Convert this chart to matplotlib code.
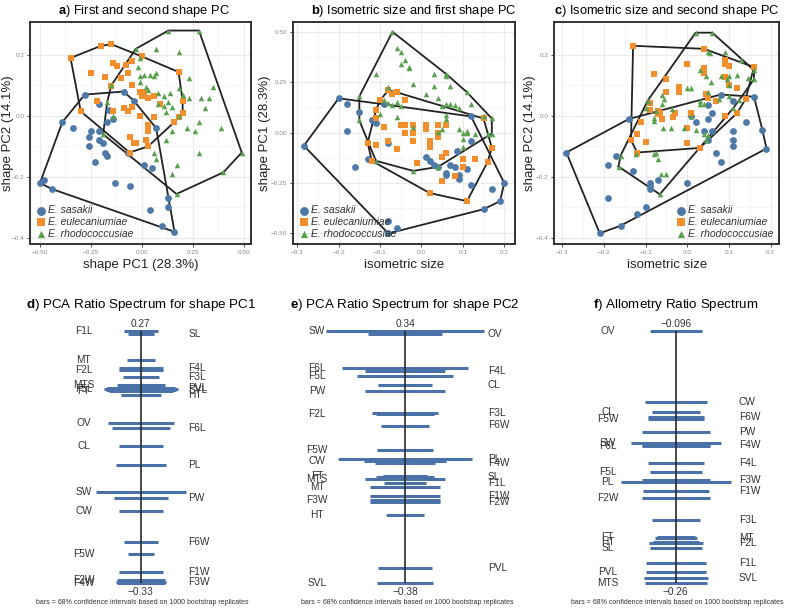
import matplotlib
matplotlib.use('Agg')
import matplotlib.pyplot as plt
import numpy as np
from matplotlib.ticker import FixedLocator, FixedFormatter

plt.rcParams['font.family'] = ['Liberation Sans', 'DejaVu Sans']
plt.rcParams['mathtext.fontset'] = 'custom'
plt.rcParams['mathtext.rm'] = 'Liberation Sans'
plt.rcParams['mathtext.bf'] = 'Liberation Sans:bold'

species = ['E. sasakii', 'E. eulecaniumiae', 'E. rhodococcusiae']
colors = ['#4E79A7', '#F28E2B', '#59A14F']
markers = ['o', 's', '^']

# a) shape PC1 vs shape PC2
a_sas = [(-0.28, 0.07), (-0.21, 0.04), (-0.09, 0.08), (-0.04, 0.05), (-0.39, -0.02), (-0.34, -0.04),
         (-0.25, -0.05), (-0.21, -0.05), (-0.16, 0.02), (-0.17, -0.02), (-0.14, -0.01), (-0.26, -0.07),
         (-0.26, -0.10), (-0.21, -0.08), (-0.19, -0.09), (-0.18, -0.12), (-0.17, -0.13), (-0.23, -0.15),
         (0.07, -0.04), (-0.07, -0.12), (0.01, -0.16), (0.05, -0.17), (-0.50, -0.22), (-0.48, -0.21),
         (-0.44, -0.24), (-0.13, -0.22), (-0.06, -0.23), (0.13, -0.27), (0.13, -0.30), (0.04, -0.31),
         (0.10, -0.36), (0.16, -0.38)]
a_eul = [(-0.35, 0.19), (-0.20, 0.23), (-0.15, 0.235), (0.00, 0.195), (0.18, 0.144), (0.20, 0.05),
         (0.20, 0.01), (0.16, -0.02), (0.18, -0.005), (0.03, -0.10), (-0.06, -0.12), (-0.30, 0.015),
         (-0.25, 0.14), (-0.18, 0.126), (-0.14, 0.174), (-0.12, 0.165), (-0.08, 0.168), (-0.05, 0.18),
         (-0.07, 0.14), (-0.15, 0.097), (-0.10, 0.125), (-0.05, 0.10), (-0.01, 0.08), (0.01, 0.08),
         (0.03, 0.06), (0.00, 0.065), (0.06, 0.065), (0.09, 0.04), (-0.22, 0.05), (-0.14, 0.015),
         (-0.09, 0.026), (-0.07, 0.015), (-0.05, 0.03), (-0.01, 0.00), (0.06, -0.005), (0.03, -0.03),
         (0.03, -0.05), (-0.06, -0.07), (-0.04, -0.09), (-0.03, -0.09), (0.02, -0.08)]
a_rho = [(0.13, 0.28), (0.28, 0.28), (-0.03, 0.22), (0.07, 0.22), (0.18, 0.21), (-0.01, 0.19),
         (-0.02, 0.16), (-0.01, 0.13), (0.01, 0.135), (0.04, 0.135), (0.07, 0.14), (0.06, 0.13),
         (-0.01, 0.11), (0.02, 0.095), (0.03, 0.085), (0.08, 0.075), (0.11, 0.065), (0.14, 0.075),
         (0.18, 0.09), (0.23, 0.125), (0.20, 0.07), (0.23, 0.06), (0.35, 0.095), (0.33, 0.06),
         (0.29, 0.06), (0.13, 0.046), (0.11, 0.033), (0.08, 0.04), (0.15, 0.03), (0.12, 0.013),
         (0.18, 0.00), (0.31, 0.025), (0.28, -0.02), (0.39, -0.04), (0.22, -0.04), (0.26, -0.05),
         (0.15, -0.05), (0.12, -0.08), (0.06, -0.12), (0.07, -0.14), (0.17, -0.16), (0.15, -0.19),
         (0.28, -0.12), (0.40, -0.185), (0.49, -0.12), (0.17, -0.256), (-0.15, 0.10), (-0.17, 0.046),
         (-0.19, -0.06), (-0.14, 0.00)]

# b) isometric size vs shape PC1
b_sas = [(-0.284, -0.065), (-0.20, 0.17), (-0.18, 0.14), (-0.18, 0.01), (-0.15, 0.10), (-0.16, -0.17),
         (-0.12, 0.06), (-0.11, 0.05), (-0.09, 0.14), (-0.08, -0.05), (-0.13, -0.13), (0.01, -0.12),
         (0.02, -0.14), (0.03, -0.16), (0.04, -0.17), (0.06, -0.20), (0.06, -0.21), (0.07, -0.16),
         (0.08, -0.17), (0.09, -0.21), (0.09, -0.23), (0.085, -0.09), (0.11, -0.18), (0.12, -0.04),
         (0.12, -0.26), (0.12, 0.08), (0.17, -0.28), (0.20, -0.25), (0.19, -0.34), (0.15, -0.38),
         (-0.06, -0.475), (-0.08, -0.44), (-0.08, -0.50)]
b_eul = [(-0.08, 0.21), (-0.07, 0.19), (-0.06, 0.20), (-0.10, 0.16), (-0.04, 0.16), (-0.11, 0.11),
         (-0.11, 0.07), (-0.09, 0.03), (-0.13, -0.05), (-0.11, -0.06), (-0.08, -0.04), (-0.06, -0.08),
         (-0.05, 0.04), (-0.04, 0.04), (-0.02, 0.04), (-0.04, 0.00), (-0.02, 0.00), (-0.02, -0.04),
         (0.01, 0.04), (0.04, 0.04), (0.06, 0.04), (0.01, 0.02), (0.04, 0.00), (0.04, -0.02),
         (0.02, -0.04), (0.02, -0.07), (-0.01, -0.15), (0.06, -0.10), (0.05, -0.12), (0.10, -0.13),
         (0.13, -0.13), (0.10, -0.17), (0.05, -0.24), (0.02, -0.30), (0.11, -0.34), (0.15, 0.07),
         (0.17, -0.075), (0.16, -0.145), (-0.12, -0.14), (0.08, -0.215)]
b_rho = [(-0.07, 0.50), (-0.06, 0.42), (-0.05, 0.40), (-0.04, 0.36), (-0.05, 0.34), (-0.03, 0.32),
         (-0.03, 0.325), (-0.11, 0.29), (-0.02, 0.24), (0.03, 0.29), (0.06, 0.29), (0.06, 0.28),
         (0.03, 0.23), (0.07, 0.23), (0.11, 0.20), (-0.08, 0.225), (-0.15, 0.18), (-0.09, 0.16),
         (-0.08, 0.145), (-0.06, 0.15), (-0.05, 0.13), (-0.07, 0.135), (-0.15, 0.06), (-0.10, 0.09),
         (-0.06, 0.075), (-0.02, 0.03), (0.01, 0.19), (0.04, 0.17), (0.05, 0.13), (0.06, 0.14),
         (0.07, 0.14), (0.08, 0.135), (0.09, 0.12), (0.12, 0.14), (0.06, 0.085), (0.06, 0.065),
         (0.05, 0.02), (0.04, 0.005), (0.09, 0.02), (0.10, 0.00), (0.11, 0.00), (0.11, 0.01),
         (0.10, -0.03), (0.10, -0.07), (0.13, -0.005), (0.16, -0.005), (0.17, 0.07), (0.17, -0.005),
         (-0.02, -0.19), (-0.11, -0.14), (0.04, -0.17), (0.15, 0.08)]

# c) isometric size vs shape PC2
c_sas = [(-0.29, -0.12), (-0.21, -0.385), (-0.16, -0.36), (-0.12, -0.32), (-0.10, -0.30), (-0.19, -0.27),
         (-0.19, -0.16), (-0.17, -0.13), (-0.13, -0.18), (-0.14, -0.01), (-0.09, -0.22), (-0.09, -0.23),
         (-0.09, -0.24), (-0.07, -0.21), (0.00, -0.22), (0.07, -0.12), (0.08, -0.15), (0.11, -0.10),
         (0.11, -0.08), (0.11, -0.05), (0.14, -0.02), (0.18, -0.045), (0.19, -0.107), (0.16, 0.063),
         (0.08, 0.07), (0.11, 0.048), (0.05, 0.037), (0.06, 0.011), (0.05, -0.01), (0.01, 0.00),
         (0.02, -0.02), (0.04, -0.05), (0.06, -0.05), (0.05, -0.08)]
c_eul = [(-0.13, 0.23), (0.04, 0.22), (0.16, 0.16), (0.14, 0.056), (0.12, 0.01), (0.09, 0.00),
         (0.07, 0.05), (0.03, -0.105), (0.00, -0.09), (-0.12, -0.12), (-0.135, -0.08), (-0.12, -0.06),
         (-0.10, -0.085), (-0.11, -0.02), (-0.09, 0.044), (-0.09, 0.02), (-0.07, 0.015), (-0.07, 0.005),
         (-0.065, 0.01), (-0.06, -0.01), (-0.035, -0.005), (-0.03, 0.01), (-0.02, 0.093), (-0.02, 0.096),
         (-0.02, 0.08), (-0.05, 0.08), (-0.05, 0.12), (-0.08, 0.137), (0.00, 0.17), (0.04, 0.157),
         (0.04, 0.14), (0.045, 0.073), (0.01, 0.01), (0.00, -0.04), (0.05, 0.06), (0.09, 0.185),
         (0.09, 0.17), (0.10, 0.165), (0.09, 0.126), (0.10, 0.10), (0.12, 0.09)]
c_rho = [(0.02, 0.273), (0.06, 0.273), (0.16, 0.15), (0.05, 0.21), (0.055, 0.205), (0.09, 0.21),
         (0.13, 0.185), (0.03, 0.15), (0.045, 0.13), (0.08, 0.13), (0.10, 0.13), (0.095, 0.12),
         (0.12, 0.133), (0.145, 0.125), (0.10, 0.10), (0.056, 0.11), (0.00, 0.09), (0.01, 0.09),
         (0.03, 0.05), (0.03, 0.04), (0.04, 0.04), (0.05, 0.077), (0.076, 0.057), (0.10, 0.066),
         (0.125, 0.053), (0.11, 0.025), (0.16, 0.12), (-0.06, 0.07), (-0.055, 0.055), (-0.06, 0.04),
         (-0.076, 0.017), (-0.10, 0.025), (-0.095, 0.05), (-0.08, -0.007), (-0.08, -0.018), (-0.036, 0.022),
         (-0.058, -0.04), (-0.04, -0.04), (-0.008, -0.04), (0.01, 0.00), (0.02, -0.045), (-0.076, -0.12),
         (-0.08, -0.125), (-0.124, -0.125), (-0.16, -0.13), (-0.165, -0.166), (-0.07, -0.14),
         (-0.064, -0.19), (-0.05, -0.19), (-0.066, -0.257), (0.04, -0.06), (0.045, -0.08), (0.05, -0.063)]

# ratio spectra: variable, ratio value, half length of the 68% CI bar
d_names = ['F1L', 'SL', 'MT', 'F4L', 'F2L', 'F3L', 'MTS', 'PVL', 'F5L', 'SVL', 'FT', 'HT', 'OV',
           'F6L', 'CL', 'PL', 'SW', 'PW', 'CW', 'F6W', 'F5W', 'F1W', 'F2W', 'F3W', 'F4W']
d_ratio = [0.270, 0.262, 0.201, 0.181, 0.178, 0.160, 0.142, 0.135, 0.132, 0.129, 0.126, 0.117, 0.052,
           0.038, -0.004, -0.048, -0.113, -0.127, -0.159, -0.233, -0.262, -0.304, -0.324, -0.328, -0.330]
d_ci = [0.17, 0.13, 0.14, 0.22, 0.22, 0.18, 0.24, 0.34, 0.37, 0.35, 0.32, 0.20, 0.33,
        0.29, 0.22, 0.25, 0.45, 0.27, 0.22, 0.17, 0.13, 0.22, 0.24, 0.25, 0.24]

e_names = ['SW', 'OV', 'F6L', 'F4L', 'F5L', 'CL', 'PW', 'F3L', 'F2L', 'F6W', 'F5W', 'PL', 'CW',
           'F4W', 'FT', 'SL', 'MTS', 'F1L', 'MT', 'F1W', 'F3W', 'F2W', 'HT', 'PVL', 'SVL']
e_ratio = [0.340, 0.331, 0.234, 0.226, 0.211, 0.186, 0.168, 0.105, 0.102, 0.070, 0.000, -0.025, -0.031,
           -0.037, -0.073, -0.077, -0.082, -0.093, -0.105, -0.131, -0.144, -0.149, -0.185, -0.337, -0.380]
e_ci = [0.79, 0.37, 0.63, 0.40, 0.48, 0.27, 0.40, 0.33, 0.29, 0.24, 0.28, 0.67, 0.41,
        0.30, 0.22, 0.29, 0.40, 0.21, 0.35, 0.35, 0.35, 0.35, 0.19, 0.27, 0.28]

f_names = ['OV', 'CW', 'CL', 'F6W', 'F5W', 'PW', 'SW', 'F4W', 'F6L', 'F4L', 'F5L', 'F3W', 'PL',
           'F1W', 'F2W', 'F3L', 'FT', 'MT', 'HT', 'F2L', 'SL', 'F1L', 'PVL', 'SVL', 'MTS']
f_ratio = [-0.096, -0.142, -0.149, -0.152, -0.153, -0.162, -0.169, -0.170, -0.171, -0.182, -0.188, -0.193,
           -0.194, -0.200, -0.205, -0.219, -0.230, -0.231, -0.233, -0.234, -0.237, -0.247, -0.253, -0.257, -0.260]
f_ci = [0.26, 0.31, 0.24, 0.28, 0.28, 0.34, 0.45, 0.34, 0.34, 0.28, 0.26, 0.34, 0.55,
        0.33, 0.34, 0.24, 0.19, 0.21, 0.23, 0.27, 0.26, 0.30, 0.30, 0.32, 0.31]

W, H = 787, 609
fig = plt.figure(figsize=(W / 100, H / 100), dpi=100)


def px_axes(left, top, w, h):
    return fig.add_axes([left / W, 1 - (top + h) / H, w / W, h / H])


def hull(pts):
    pts = sorted(set(pts))
    cross = lambda o, a, b: (a[0] - o[0]) * (b[1] - o[1]) - (a[1] - o[1]) * (b[0] - o[0])
    lower, upper = [], []
    for p in pts:
        while len(lower) >= 2 and cross(lower[-2], lower[-1], p) <= 0:
            lower.pop()
        lower.append(p)
    for p in reversed(pts):
        while len(upper) >= 2 and cross(upper[-2], upper[-1], p) <= 0:
            upper.pop()
        upper.append(p)
    h = lower[:-1] + upper[:-1]
    h.append(h[0])
    return np.array(h)


def scatter_panel(box, groups, xlim, ylim, xt, xtl, yt, ytl, xlabel, ylabel, ylab_x, title, title_x, leg_loc):
    ax = px_axes(*box)
    for g, c, m, lab in zip(groups, colors, markers, species):
        arr = np.array(g)
        sz = 24 if m == 'o' else 16
        ax.scatter(arr[:, 0], arr[:, 1], s=sz, marker=m, color=c, linewidths=0, label=lab, zorder=3)
    for g in groups:
        h = hull(g)
        ax.plot(h[:, 0], h[:, 1], color='#222222', lw=1.3, zorder=2)
    ax.set_xlim(xlim)
    ax.set_ylim(ylim)
    ax.xaxis.set_major_locator(FixedLocator(xt))
    ax.xaxis.set_major_formatter(FixedFormatter(xtl))
    ax.yaxis.set_major_locator(FixedLocator(yt))
    ax.yaxis.set_major_formatter(FixedFormatter(ytl))
    ax.xaxis.set_minor_locator(FixedLocator([(xt[i] + xt[i + 1]) / 2 for i in range(len(xt) - 1)]))
    ax.yaxis.set_minor_locator(FixedLocator([(yt[i] + yt[i + 1]) / 2 for i in range(len(yt) - 1)]))
    ax.grid(which='major', color='#EBEBEB', lw=0.8, zorder=0)
    ax.grid(which='minor', color='#F4F4F4', lw=0.5, zorder=0)
    ax.set_axisbelow(True)
    ax.tick_params(which='major', length=2.5, width=0.6, color='#333333', labelsize=4.6,
                   labelcolor='#8A8A8A', pad=1.5)
    ax.tick_params(which='minor', length=0)
    for s in ax.spines.values():
        s.set_linewidth(1.4)
        s.set_color('#333333')
    ax.set_xlabel(xlabel, fontsize=9.5, color='#222222', labelpad=3)
    mid = 1 - (box[1] + box[3] / 2) / H
    fig.text(ylab_x / W, mid, ylabel, rotation=90, ha='center', va='center', fontsize=9.5, color='#222222')
    fig.text(title_x / W, 1 - 11 / H, title, ha='center', va='center', fontsize=9.3)
    ax.legend(loc=leg_loc, frameon=False, prop={'style': 'italic', 'size': 7.5},
              handletextpad=0.2, labelspacing=0.15, borderaxespad=0.15, handlelength=1.0,
              markerscale=1.3, labelcolor='#333333')
    return ax


def spectrum(cx, names, ratio, ci, lab_l, lab_r, title):
    ax = px_axes(cx - 110, 320, 220, 275)
    vmax, vmin = max(ratio), min(ratio)
    s = (vmax - vmin) / (583 - 331)
    ax.set_xlim(-1.1, 1.1)
    ax.set_ylim(vmin - (595 - 583) * s, vmax + (331 - 320) * s)
    ax.axis('off')
    ax.hlines(ratio, -np.array(ci), np.array(ci), color='#4A72A8', lw=2.2, zorder=2)
    ax.vlines(0, vmin, vmax, color='#2B2B2B', lw=1.2, zorder=3)
    for i, (n, v) in enumerate(zip(names, ratio)):
        if i % 2 == 0:
            ax.text(lab_l, v, n, ha='center', va='center', fontsize=7.3, color='#333333')
        else:
            ax.text(lab_r, v, n, ha='left', va='center', fontsize=7.3, color='#333333')
    fmt = lambda v: '{:.2g}'.format(v).replace('-', '\u2212')
    ax.annotate(fmt(vmax), (0, vmax), xytext=(0, 1.5), textcoords='offset points',
                ha='center', va='bottom', fontsize=7.3, color='#333333')
    ax.annotate(fmt(vmin), (0, vmin), xytext=(0, -3), textcoords='offset points',
                ha='center', va='top', fontsize=7.3, color='#333333')
    fig.text(cx / W, 1 - 305 / H, title, ha='center', va='center', fontsize=9.6)
    fig.text((cx + 2) / W, 1 - 603 / H, 'bars = 68% confidence intervals based on 1000 bootstrap replicates',
             ha='center', va='center', fontsize=5, color='#333333')
    return ax


m = '\u2212'
scatter_panel((30, 22.3, 220.7, 222), [a_sas, a_eul, a_rho], (-0.549, 0.534), (-0.421, 0.307),
              [-0.5, -0.25, 0, 0.25, 0.5], [m + '0.50', m + '0.25', '0.00', '0.25', '0.50'],
              [-0.4, -0.2, 0, 0.2], [m + '0.4', m + '0.2', '0.0', '0.2'],
              'shape PC1 (28.3%)', 'shape PC2 (14.1%)', 8,
              r'$\mathbf{a}$) First and second shape PC', 144, 'lower left')
scatter_panel((292.7, 22.3, 222.3, 222), [b_sas, b_eul, b_rho], (-0.311, 0.226), (-0.554, 0.547),
              [-0.3, -0.2, -0.1, 0, 0.1, 0.2], [m + '0.3', m + '0.2', m + '0.1', '0.0', '0.1', '0.2'],
              [-0.5, -0.25, 0, 0.25, 0.5], [m + '0.50', m + '0.25', '0.00', '0.25', '0.50'],
              'isometric size', 'shape PC1 (28.3%)', 265,
              r'$\mathbf{b}$) Isometric size and first shape PC', 414, 'lower left')
scatter_panel((554.3, 22.3, 224.7, 222), [c_sas, c_eul, c_rho], (-0.319, 0.220), (-0.421, 0.307),
              [-0.3, -0.2, -0.1, 0, 0.1, 0.2], [m + '0.3', m + '0.2', m + '0.1', '0.0', '0.1', '0.2'],
              [-0.4, -0.2, 0, 0.2], [m + '0.4', m + '0.2', '0.0', '0.2'],
              'isometric size', 'shape PC2 (14.1%)', 530,
              r'$\mathbf{c}$) Isometric size and second shape PC', 667, 'lower right')

spectrum(140.7, d_names, d_ratio, d_ci, -0.57, 0.476, r'$\mathbf{d}$) PCA Ratio Spectrum for shape PC1')
spectrum(405, e_names, e_ratio, e_ci, -0.88, 0.83, r'$\mathbf{e}$) PCA Ratio Spectrum for shape PC2')
spectrum(675.7, f_names, f_ratio, f_ci, -0.68, 0.63, r'$\mathbf{f}$) Allometry Ratio Spectrum')

fig.savefig('out.png', dpi=100)
